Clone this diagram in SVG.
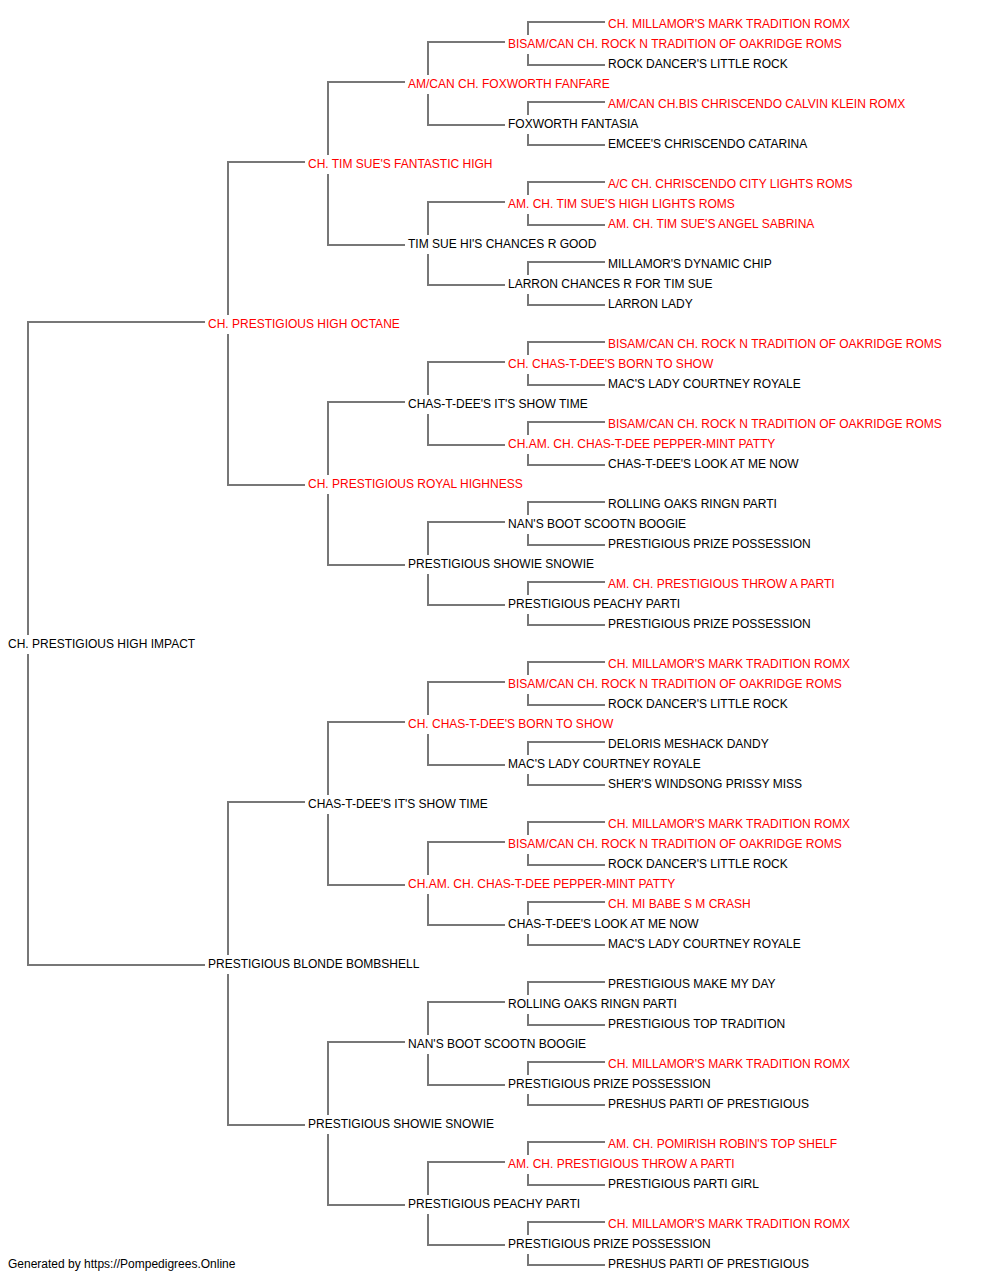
<svg xmlns="http://www.w3.org/2000/svg" width="1000" height="1280" viewBox="0 0 1000 1280">
<style>
text{font-family:"Liberation Sans",Arial,sans-serif;font-size:12px}
.r{fill:#ff0000}
.b{fill:#000000}
#connectors path{fill:none;stroke:#777777;stroke-width:2}
</style>
<rect width="1000" height="1280" fill="#ffffff"/>
<g id="connectors">
<path d="M205 322H28V635M28 654V965H205"/>
<path d="M305 162H228V315M228 334V485H305"/>
<path d="M305 802H228V955M228 974V1125H305"/>
<path d="M405 82H328V155M328 174V245H405"/>
<path d="M405 402H328V475M328 494V565H405"/>
<path d="M405 722H328V795M328 814V885H405"/>
<path d="M405 1042H328V1115M328 1134V1205H405"/>
<path d="M505 42H428V75M428 94V125H505"/>
<path d="M505 202H428V235M428 254V285H505"/>
<path d="M505 362H428V395M428 414V445H505"/>
<path d="M505 522H428V555M428 574V605H505"/>
<path d="M505 682H428V715M428 734V765H505"/>
<path d="M505 842H428V875M428 894V925H505"/>
<path d="M505 1002H428V1035M428 1054V1085H505"/>
<path d="M505 1162H428V1195M428 1214V1245H505"/>
<path d="M605 22H528V35M528 54V65H605"/>
<path d="M605 102H528V115M528 134V145H605"/>
<path d="M605 182H528V195M528 214V225H605"/>
<path d="M605 262H528V275M528 294V305H605"/>
<path d="M605 342H528V355M528 374V385H605"/>
<path d="M605 422H528V435M528 454V465H605"/>
<path d="M605 502H528V515M528 534V545H605"/>
<path d="M605 582H528V595M528 614V625H605"/>
<path d="M605 662H528V675M528 694V705H605"/>
<path d="M605 742H528V755M528 774V785H605"/>
<path d="M605 822H528V835M528 854V865H605"/>
<path d="M605 902H528V915M528 934V945H605"/>
<path d="M605 982H528V995M528 1014V1025H605"/>
<path d="M605 1062H528V1075M528 1094V1105H605"/>
<path d="M605 1142H528V1155M528 1174V1185H605"/>
<path d="M605 1222H528V1235M528 1254V1265H605"/>
</g>
<g id="n0"><text class="r" x="608" y="28">CH. MILLAMOR'S MARK TRADITION ROMX</text></g>
<g id="n1"><text class="r" x="508" y="48">BISAM/CAN CH. ROCK N TRADITION OF OAKRIDGE ROMS</text></g>
<g id="n2"><text class="b" x="608" y="68">ROCK DANCER'S LITTLE ROCK</text></g>
<g id="n3"><text class="r" x="408" y="88">AM/CAN CH. FOXWORTH FANFARE</text></g>
<g id="n4"><text class="r" x="608" y="108">AM/CAN CH.BIS CHRISCENDO CALVIN KLEIN ROMX</text></g>
<g id="n5"><text class="b" x="508" y="128">FOXWORTH FANTASIA</text></g>
<g id="n6"><text class="b" x="608" y="148">EMCEE'S CHRISCENDO CATARINA</text></g>
<g id="n7"><text class="r" x="308" y="168">CH. TIM SUE'S FANTASTIC HIGH</text></g>
<g id="n8"><text class="r" x="608" y="188">A/C CH. CHRISCENDO CITY LIGHTS ROMS</text></g>
<g id="n9"><text class="r" x="508" y="208">AM. CH. TIM SUE'S HIGH LIGHTS ROMS</text></g>
<g id="n10"><text class="r" x="608" y="228">AM. CH. TIM SUE'S ANGEL SABRINA</text></g>
<g id="n11"><text class="b" x="408" y="248">TIM SUE HI'S CHANCES R GOOD</text></g>
<g id="n12"><text class="b" x="608" y="268">MILLAMOR'S DYNAMIC CHIP</text></g>
<g id="n13"><text class="b" x="508" y="288">LARRON CHANCES R FOR TIM SUE</text></g>
<g id="n14"><text class="b" x="608" y="308">LARRON LADY</text></g>
<g id="n15"><text class="r" x="208" y="328">CH. PRESTIGIOUS HIGH OCTANE</text></g>
<g id="n16"><text class="r" x="608" y="348">BISAM/CAN CH. ROCK N TRADITION OF OAKRIDGE ROMS</text></g>
<g id="n17"><text class="r" x="508" y="368">CH. CHAS-T-DEE'S BORN TO SHOW</text></g>
<g id="n18"><text class="b" x="608" y="388">MAC'S LADY COURTNEY ROYALE</text></g>
<g id="n19"><text class="b" x="408" y="408">CHAS-T-DEE'S IT'S SHOW TIME</text></g>
<g id="n20"><text class="r" x="608" y="428">BISAM/CAN CH. ROCK N TRADITION OF OAKRIDGE ROMS</text></g>
<g id="n21"><text class="r" x="508" y="448">CH.AM. CH. CHAS-T-DEE PEPPER-MINT PATTY</text></g>
<g id="n22"><text class="b" x="608" y="468">CHAS-T-DEE'S LOOK AT ME NOW</text></g>
<g id="n23"><text class="r" x="308" y="488">CH. PRESTIGIOUS ROYAL HIGHNESS</text></g>
<g id="n24"><text class="b" x="608" y="508">ROLLING OAKS RINGN PARTI</text></g>
<g id="n25"><text class="b" x="508" y="528">NAN'S BOOT SCOOTN BOOGIE</text></g>
<g id="n26"><text class="b" x="608" y="548">PRESTIGIOUS PRIZE POSSESSION</text></g>
<g id="n27"><text class="b" x="408" y="568">PRESTIGIOUS SHOWIE SNOWIE</text></g>
<g id="n28"><text class="r" x="608" y="588">AM. CH. PRESTIGIOUS THROW A PARTI</text></g>
<g id="n29"><text class="b" x="508" y="608">PRESTIGIOUS PEACHY PARTI</text></g>
<g id="n30"><text class="b" x="608" y="628">PRESTIGIOUS PRIZE POSSESSION</text></g>
<g id="n31"><text class="b" x="8" y="648">CH. PRESTIGIOUS HIGH IMPACT</text></g>
<g id="n32"><text class="r" x="608" y="668">CH. MILLAMOR'S MARK TRADITION ROMX</text></g>
<g id="n33"><text class="r" x="508" y="688">BISAM/CAN CH. ROCK N TRADITION OF OAKRIDGE ROMS</text></g>
<g id="n34"><text class="b" x="608" y="708">ROCK DANCER'S LITTLE ROCK</text></g>
<g id="n35"><text class="r" x="408" y="728">CH. CHAS-T-DEE'S BORN TO SHOW</text></g>
<g id="n36"><text class="b" x="608" y="748">DELORIS MESHACK DANDY</text></g>
<g id="n37"><text class="b" x="508" y="768">MAC'S LADY COURTNEY ROYALE</text></g>
<g id="n38"><text class="b" x="608" y="788">SHER'S WINDSONG PRISSY MISS</text></g>
<g id="n39"><text class="b" x="308" y="808">CHAS-T-DEE'S IT'S SHOW TIME</text></g>
<g id="n40"><text class="r" x="608" y="828">CH. MILLAMOR'S MARK TRADITION ROMX</text></g>
<g id="n41"><text class="r" x="508" y="848">BISAM/CAN CH. ROCK N TRADITION OF OAKRIDGE ROMS</text></g>
<g id="n42"><text class="b" x="608" y="868">ROCK DANCER'S LITTLE ROCK</text></g>
<g id="n43"><text class="r" x="408" y="888">CH.AM. CH. CHAS-T-DEE PEPPER-MINT PATTY</text></g>
<g id="n44"><text class="r" x="608" y="908">CH. MI BABE S M CRASH</text></g>
<g id="n45"><text class="b" x="508" y="928">CHAS-T-DEE'S LOOK AT ME NOW</text></g>
<g id="n46"><text class="b" x="608" y="948">MAC'S LADY COURTNEY ROYALE</text></g>
<g id="n47"><text class="b" x="208" y="968">PRESTIGIOUS BLONDE BOMBSHELL</text></g>
<g id="n48"><text class="b" x="608" y="988">PRESTIGIOUS MAKE MY DAY</text></g>
<g id="n49"><text class="b" x="508" y="1008">ROLLING OAKS RINGN PARTI</text></g>
<g id="n50"><text class="b" x="608" y="1028">PRESTIGIOUS TOP TRADITION</text></g>
<g id="n51"><text class="b" x="408" y="1048">NAN'S BOOT SCOOTN BOOGIE</text></g>
<g id="n52"><text class="r" x="608" y="1068">CH. MILLAMOR'S MARK TRADITION ROMX</text></g>
<g id="n53"><text class="b" x="508" y="1088">PRESTIGIOUS PRIZE POSSESSION</text></g>
<g id="n54"><text class="b" x="608" y="1108">PRESHUS PARTI OF PRESTIGIOUS</text></g>
<g id="n55"><text class="b" x="308" y="1128">PRESTIGIOUS SHOWIE SNOWIE</text></g>
<g id="n56"><text class="r" x="608" y="1148">AM. CH. POMIRISH ROBIN'S TOP SHELF</text></g>
<g id="n57"><text class="r" x="508" y="1168">AM. CH. PRESTIGIOUS THROW A PARTI</text></g>
<g id="n58"><text class="b" x="608" y="1188">PRESTIGIOUS PARTI GIRL</text></g>
<g id="n59"><text class="b" x="408" y="1208">PRESTIGIOUS PEACHY PARTI</text></g>
<g id="n60"><text class="r" x="608" y="1228">CH. MILLAMOR'S MARK TRADITION ROMX</text></g>
<g id="n61"><text class="b" x="508" y="1248">PRESTIGIOUS PRIZE POSSESSION</text></g>
<g id="n62"><text class="b" x="608" y="1268">PRESHUS PARTI OF PRESTIGIOUS</text></g>
<g id="footer"><text class="b" x="8" y="1268">Generated by https://Pompedigrees.Online</text></g>
</svg>
